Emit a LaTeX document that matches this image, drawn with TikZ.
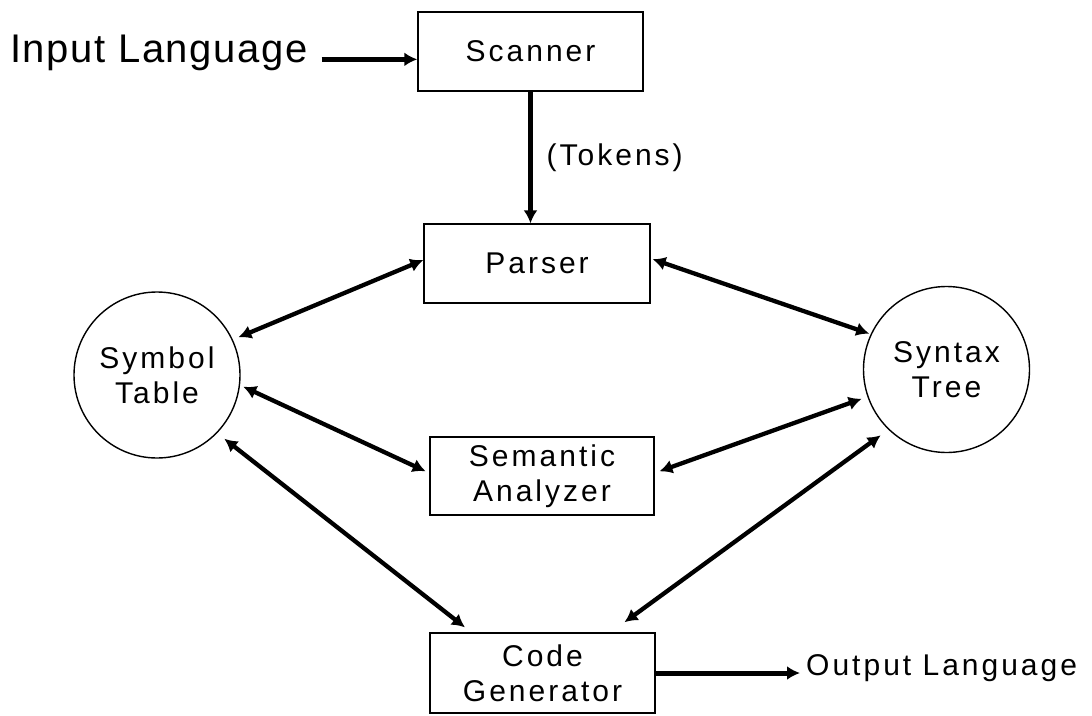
\documentclass[tikz,border=0pt]{standalone}
\usepackage{fontspec}
\setmainfont{Liberation Sans}
\newfontfamily\labelfamily[LetterSpace=10]{Liberation Sans}
\newfontfamily\bigfamily[LetterSpace=4]{Liberation Sans}
\usetikzlibrary{arrows.meta}

\begin{document}
\begin{tikzpicture}[x=1pt,y=-1pt,
  every node/.style={inner sep=0pt},
  txt/.style={font=\labelfamily\fontsize{30}{35}\selectfont, align=center},
  stagebox/.style={txt, draw, line width=1.4pt, minimum width=225pt, minimum height=79pt},
  store/.style={txt, draw, circle, line width=1.4pt, minimum size=166pt},
  tip/.tip={Latex[length=13pt,width=14pt]},
  flow/.style={-tip, line width=4.5pt},
  link/.style={tip-tip, line width=4.3pt},
]
\useasboundingbox[fill=white] (0,0) rectangle (1092,715);

% compiler phases
\node[stagebox] (scan) at (530.5,51.5) {Scanner};
\node[stagebox, minimum width=226pt] (parse) at (537,263.5) {Parser};
\node[stagebox, minimum width=224pt, minimum height=78pt] (sem) at (542,476) {Semantic\\Analyzer};
\node[stagebox, minimum height=80pt] (gen) at (542.5,673) {Code\\Generator};

% shared data structures
\node[store] (sym) at (157,375) {Symbol\\Table};
\node[store] (syn) at (946.5,369.5) {Syntax\\Tree};

% program text in and out
\node[font=\bigfamily\fontsize{40}{48}\selectfont, anchor=base west] (in) at (10,62) {Input Language};
\node[txt, anchor=mid west] (out) at (806,673) {Output Language};

% main pipeline
\draw[flow, line width=5.5pt] ([xshift=14pt]in.mid east) -- (in.mid east -| scan.west);
\draw[flow, line width=4.3pt] (scan.south) -- node[txt, anchor=west, xshift=14pt] {(Tokens)} (scan.south |- parse.north);
\draw[flow, line width=5pt] (gen.east) -- ([xshift=-6pt]gen.east -| out.west);

% symbol table accesses
\draw[link, shorten <=6pt] (sym.25) -- ([yshift=3.5pt]parse.west);
\draw[link, shorten <=3.5pt, shorten >=4pt] (sym.-7) -- ([yshift=3pt]sem.west);
\draw[link, shorten <=9pt, shorten >=8pt] (sym.-44) -- ([xshift=42pt]gen.north west);

% syntax tree accesses
\draw[link, shorten <=2pt, shorten >=1.5pt] ([yshift=5pt]parse.east) -- (syn.155);
\draw[link, shorten <=5pt, shorten >=6pt] ([yshift=3pt]sem.east) -- (syn.199);
\draw[link, shorten <=17pt, shorten >=9.5pt] ([xshift=-45pt]gen.north east) -- (syn.226);
\end{tikzpicture}
\end{document}
